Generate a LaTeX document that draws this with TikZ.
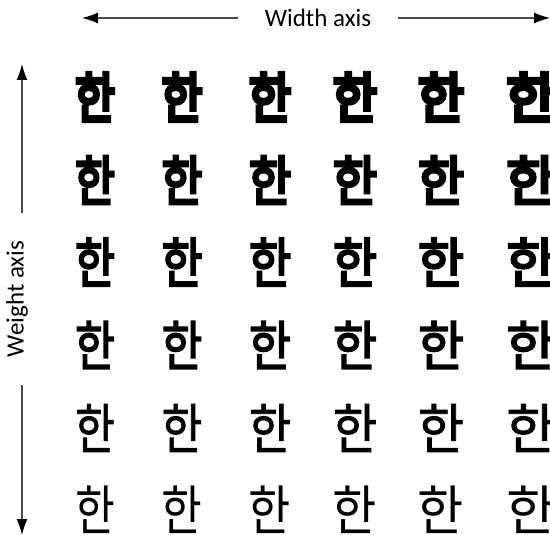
\documentclass[tikz,border=0pt]{standalone}
\usepackage{fontspec}
\usepackage{graphicx}
\usetikzlibrary{arrows.meta}
\setmainfont{Carlito}
\newfontfamily\krA[FakeBold=8]{Noto Sans CJK KR}
\newfontfamily\krB[FakeBold=6]{Noto Sans CJK KR}
\newfontfamily\krC[FakeBold=4.3]{Noto Sans CJK KR}
\newfontfamily\krD[FakeBold=3]{Noto Sans CJK KR}
\newfontfamily\krE[FakeBold=1.5]{Noto Sans CJK KR}
\newfontfamily\krF{Noto Sans CJK KR}
\tikzset{
  han/.style={inner sep=0pt, anchor=center, font=\fontsize{54}{54}\selectfont},
  axlabel/.style={inner sep=0pt, font=\fontsize{25}{25}\selectfont},
  axline/.style={draw=black!70, line width=1.4pt, -{Latex[color=black,length=16pt,width=11pt]}}
}
\begin{document}
\begin{tikzpicture}[x=1pt,y=1pt]
\useasboundingbox (0,0) rectangle (550,-535);
% axes
\node[axlabel, inner xsep=27pt] (wlab) at (318,-18) {Width axis};
\coordinate (wL) at (82,-18);
\coordinate (wR) at (550,-18);
\draw[axline] (wlab.west) -- (wL);
\draw[axline] (wlab.east) -- (wR);
\node[axlabel, inner xsep=28pt, rotate=90] (hlab) at (17,-299) {Weight axis};
\coordinate (hT) at (22,-64);
\coordinate (hB) at (22,-535);
\draw[axline] (hT |- hlab.east) -- (hT);
\draw[axline] (hB |- hlab.west) -- (hB);
% grid
\foreach \r/\y/\f in {1/97/\krA,2/180/\krB,3/262/\krC,4/345/\krD,5/428/\krE,6/510/\krF}{
  \foreach \c/\x/\s in {1/95/0.8,2/182/0.82,3/270/0.85,4/355/0.89,5/441/0.93,6/531/1.0}{
    \node[han] (h\r\c) at (\x,-\y) {\f\scalebox{\s}[1]{한}};
  }
}
\end{tikzpicture}
\end{document}
